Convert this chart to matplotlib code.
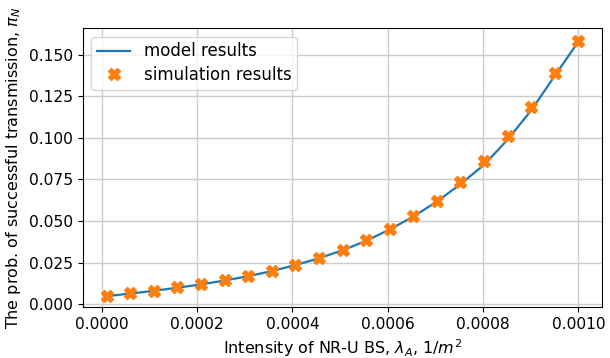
import numpy as np
import matplotlib.pyplot as plt

# BS intensity, 1/m^2
lam = [0.00001, 0.0000595, 0.000109, 0.0001585, 0.000208, 0.0002575, 0.000307,
       0.0003565, 0.000406, 0.0004555, 0.000505, 0.0005545, 0.000604, 0.0006535,
       0.000703, 0.0007525, 0.000802, 0.0008515, 0.000901, 0.0009505, 0.001]

# analytical model
p_model = [0.0048, 0.0064, 0.0080, 0.0099, 0.0119, 0.0142, 0.0168, 0.0199,
           0.0235, 0.0276, 0.0324, 0.0381, 0.0449, 0.0527, 0.0617, 0.0722,
           0.0838, 0.0990, 0.1166, 0.1374, 0.1580]

# simulation
p_sim = [0.0048, 0.0065, 0.0081, 0.0101, 0.0119, 0.0145, 0.0169, 0.0202,
         0.0238, 0.0278, 0.0328, 0.0385, 0.0453, 0.0531, 0.0623, 0.0733,
         0.0858, 0.1010, 0.1184, 0.1390, 0.1582]

plt.rcParams['font.size'] = 11.2

fig, ax = plt.subplots(figsize=(6.1, 3.58), dpi=100)
fig.subplots_adjust(left=0.136, right=0.987, top=0.921, bottom=0.142)

ax.plot(lam, p_model, '-', color='C0', linewidth=1.6, label='model results')
ax.plot(lam, p_sim, 'X', color='C1', markersize=8, linestyle='none',
        label='simulation results')

ax.set_ylim(-0.0018, 0.1659)
ax.set_yticks(np.arange(0, 0.151, 0.025))
ax.grid(True, color='#cccccc', linewidth=1)
ax.set_axisbelow(True)

ax.set_xlabel(r'Intensity of NR-U BS, $\lambda_A$, $1/m^2$', fontsize=11.5)
ax.set_ylabel(r'The prob. of successful transmission, $\pi_N$', fontsize=11.5)
ax.legend(loc='upper left', numpoints=1, fontsize=12,
          labelspacing=0.35, borderpad=0.35)

fig.savefig('out.png', dpi=100)
